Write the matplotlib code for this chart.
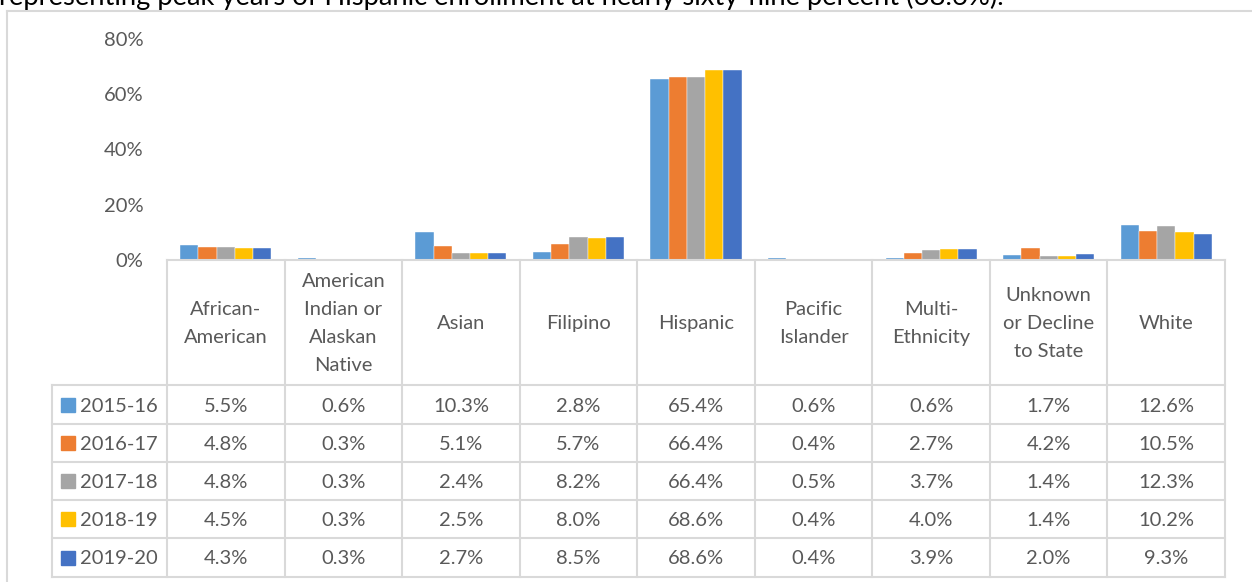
import matplotlib
matplotlib.use("Agg")
import matplotlib.pyplot as plt
import numpy as np
from matplotlib.lines import Line2D
from matplotlib.patches import Rectangle

W, H = 1252, 582

categories = ["African-\nAmerican", "American\nIndian or\nAlaskan\nNative", "Asian", "Filipino",
              "Hispanic", "Pacific\nIslander", "Multi-\nEthnicity", "Unknown\nor Decline\nto State", "White"]
years = ["2015-16", "2016-17", "2017-18", "2018-19", "2019-20"]
v2015 = [5.5, 0.6, 10.3, 2.8, 65.4, 0.6, 0.6, 1.7, 12.6]
v2016 = [4.8, 0.3, 5.1, 5.7, 66.4, 0.4, 2.7, 4.2, 10.5]
v2017 = [4.8, 0.3, 2.4, 8.2, 66.4, 0.5, 3.7, 1.4, 12.3]
v2018 = [4.5, 0.3, 2.5, 8.0, 68.6, 0.4, 4.0, 1.4, 10.2]
v2019 = [4.3, 0.3, 2.7, 8.5, 68.6, 0.4, 3.9, 2.0, 9.3]
series = [v2015, v2016, v2017, v2018, v2019]
colors = ["#5B9BD5", "#ED7D31", "#A5A5A5", "#FFC000", "#4472C4"]
yticks = [0, 20, 40, 60, 80]

plt.rcParams["font.family"] = ["Lato", "DejaVu Sans"]
TXT = "#595959"
GRID = "#D9D9D9"
FS = 14.5


def fx(x): return x / W
def fy(y): return 1 - y / H


fig = plt.figure(figsize=(W / 100, H / 100), dpi=100)

# plot area in pixel coordinates
x0, x1, ytop, ybot = 167, 1225, 39, 260
ax = fig.add_axes([fx(x0), fy(ybot), fx(x1) - fx(x0), fy(ytop) - fy(ybot)])
n = len(categories)
x = np.arange(n)
bw = 0.155
for i, (vals, c) in enumerate(zip(series, colors)):
    ax.bar(x + (i - 2) * bw, vals, bw, color=c, edgecolor="white", linewidth=0.3)
ax.set_xlim(-0.5, n - 0.5)
ax.set_ylim(0, 80)
ax.set_yticks(yticks)
ax.set_yticklabels([f"{t}%" for t in yticks], color=TXT, fontsize=FS)
ax.tick_params(axis="y", length=0, pad=17)
ax.set_xticks([])
for s in ["top", "right", "left"]:
    ax.spines[s].set_visible(False)
ax.spines["bottom"].set_color(GRID)
ax.spines["bottom"].set_linewidth(1.5)


def line(xa, ya, xb, yb, lw=1.5):
    fig.add_artist(Line2D([fx(xa), fx(xb)], [fy(ya), fy(yb)], color=GRID, lw=lw,
                          transform=fig.transFigure))


# outer chart border
line(7, 11, W + 5, 11)
line(7, 11, 7, H + 5)

# data table
cols = np.linspace(x0, x1, n + 1)
rows = [385, 424, 462, 500, 538, 577]
label_left = 52
for cx in cols:
    line(cx, ybot, cx, rows[-1])
line(label_left, rows[0], label_left, rows[-1])
for ry in rows:
    line(label_left, ry, x1, ry)

for j, cat in enumerate(categories):
    fig.text(fx((cols[j] + cols[j + 1]) / 2), fy((ybot + rows[0]) / 2 + 1), cat, ha="center", va="center",
             color=TXT, fontsize=FS, linespacing=1.8)

for i, (yr, vals, c) in enumerate(zip(years, series, colors)):
    cy = (rows[i] + rows[i + 1]) / 2
    fig.add_artist(Rectangle((fx(61), fy(cy + 7)), fx(14), 14 / H, color=c, transform=fig.transFigure))
    fig.text(fx(80), fy(cy), yr, ha="left", va="center_baseline", color=TXT, fontsize=FS)
    for j, v in enumerate(vals):
        fig.text(fx((cols[j] + cols[j + 1]) / 2), fy(cy), f"{v:.1f}%", ha="center",
                 va="center_baseline", color=TXT, fontsize=FS)

# cropped caption text at the top
fig.text(fx(-1), fy(5), "representing peak years of Hispanic enrollment at nearly sixty-nine percent (68.6%).",
         ha="left", va="baseline", color="black", fontsize=19.7)

fig.savefig("out.png", dpi=100)
